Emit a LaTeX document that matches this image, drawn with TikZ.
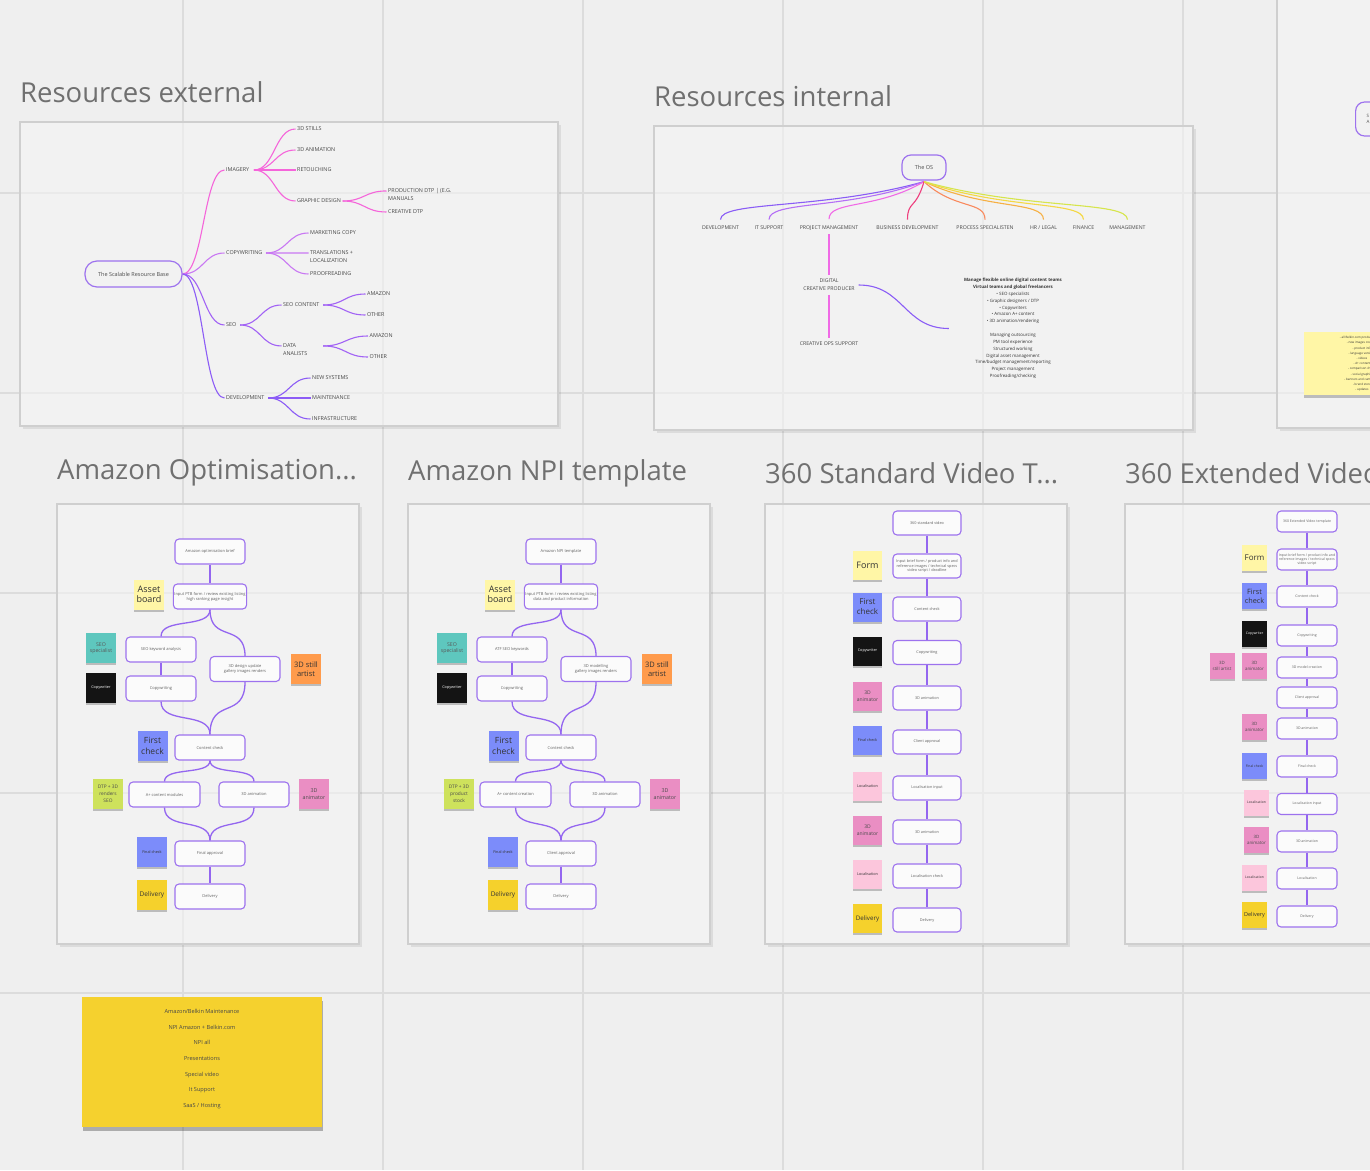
\documentclass[tikz,border=0pt]{standalone}
\usepackage{fontspec}
\setmainfont{Open Sans}
\usetikzlibrary{calc,shadows}
\definecolor{bgc}{HTML}{EFEFEF}
\definecolor{gridc}{HTML}{DCDCDC}
\definecolor{framefill}{HTML}{F6F6F6}
\definecolor{frameedge}{HTML}{CFCFCF}
\definecolor{titlec}{HTML}{707070}
\definecolor{vio}{HTML}{9466F0}
\definecolor{boxedge}{HTML}{9D72EE}
\definecolor{mmpink}{HTML}{F565DA}
\definecolor{mmorch}{HTML}{C978F3}
\definecolor{mmpurp}{HTML}{A263F5}
\definecolor{mmviol}{HTML}{8C5CF6}
\definecolor{osviol}{HTML}{8A5CF6}
\definecolor{oslav}{HTML}{B46EF6}
\definecolor{ospink}{HTML}{F06AE6}
\definecolor{oscrim}{HTML}{EE3F7E}
\definecolor{osorange}{HTML}{F98A5E}
\definecolor{osamber}{HTML}{F6B044}
\definecolor{osyellow}{HTML}{F4D843}
\definecolor{oslime}{HTML}{D6E54C}
\definecolor{stlight}{HTML}{FFF6A6}
\definecolor{styellow}{HTML}{F5D12C}
\definecolor{stteal}{HTML}{5EC7BE}
\definecolor{stblack}{HTML}{141414}
\definecolor{storange}{HTML}{FF9B4C}
\definecolor{stblue}{HTML}{7C8CFA}
\definecolor{stlime}{HTML}{CEE25C}
\definecolor{stpink}{HTML}{EA8EC3}
\definecolor{stlpink}{HTML}{FCC6DC}
\definecolor{bigsticky}{HTML}{F5D12E}
\tikzset{
  ftitle/.style={anchor=west, inner sep=0pt, text=titlec, font=\fontsize{27.5}{32}\selectfont},
  gridline/.style={draw=gridc, line width=1.3pt},
  mmroot/.style={draw=boxedge, line width=1.2pt, rounded corners=12pt, minimum width=97pt, minimum height=26pt, font=\fontsize{5.5}{6.5}\selectfont, text=black!70, inner sep=1pt},
  mml/.style={anchor=west, inner sep=1.5pt, align=left, font=\fontsize{5.4}{7.5}\selectfont, text=black!72},
  osl/.style={inner sep=1pt, outer sep=3pt, align=center, font=\fontsize{5.2}{8}\selectfont, text=black!72},
  mmc/.style={line width=1.1pt},
  fbox/.style={draw=boxedge, line width=1.1pt, rounded corners=4pt, fill=white!60!framefill, minimum width=70pt, minimum height=25pt, inner sep=1pt, align=center, font=\fontsize{4}{5}\selectfont, text=black!62},
  sbox/.style={fbox, minimum width=68pt, minimum height=24pt, font=\fontsize{3.8}{4.6}\selectfont},
  ebox/.style={fbox, minimum width=60pt, minimum height=21pt, font=\fontsize{3.5}{4.3}\selectfont},
  flow/.style={draw=vio, line width=1.3pt},
  sticky/.style={minimum width=30pt, minimum height=30pt, inner sep=0.5pt, align=center, text=black!80, drop shadow={shadow xshift=0pt, shadow yshift=-2pt, opacity=0.22, fill=black}},
  ssticky/.style={sticky, minimum width=29pt, minimum height=29pt},
  esticky/.style={sticky, minimum width=25pt, minimum height=26pt},
  tinyt/.style={font=\fontsize{3.8}{4.6}\selectfont},
}
% the let-values carry pt units, so the offsets below are canvas offsets
% horizontal mind-map curve
\newcommand\hc[3]{\draw[#1] let \p1=(#2), \p2=(#3), \n1={(\x2-\x1)/2}, \n2={(\x1-\x2)/2} in (#2) .. controls +(\n1,0pt) and +(\n2,0pt) .. (#3);}
% vertical flow curve
\newcommand\vc[3]{\draw[#1] let \p1=(#2), \p2=(#3), \n1={0.72*(\y2-\y1)}, \n2={0.72*(\y1-\y2)} in (#2) .. controls +(0pt,\n1) and +(0pt,\n2) .. (#3);}
% fan curve (top-down mind map)
\newcommand\fc[3]{\draw[#1] let \p1=(#2), \p2=(#3), \n1={0.5*(\x2-\x1)}, \n2={0.75*(\y2-\y1)}, \n3={0.5*(\y1-\y2)} in (#2) .. controls +(\n1,\n2) and +(0pt,\n3) .. (#3);}
\newcommand\frm[4]{%
  \draw[black,opacity=.08,line width=3pt] (#1+3,#4+1.8) -- (#3+1.8,#4+1.8) -- (#3+1.8,#2+3);
  \filldraw[fill=framefill,fill opacity=.55,draw=frameedge,line width=1.8pt] (#1,#2) rectangle (#3,#4);}
\newcommand\amazonflow[2]{%
  \node[fbox] (#2b1) at (#1+210,551.5) {\azA};
  \node[fbox] (#2b2) at (#1+210,596.5) {\azB};
  \node[fbox] (#2b3) at (#1+161,649.5) {\azC};
  \node[fbox] (#2b4) at (#1+161,688.5) {\azD};
  \node[fbox] (#2b5) at (#1+245,669) {\azE};
  \node[fbox] (#2b6) at (#1+210,747.5) {\azF};
  \node[fbox,minimum width=71pt] (#2b7) at (#1+164.5,794.5) {\azG};
  \node[fbox] (#2b8) at (#1+254,794.5) {\azH};
  \node[fbox] (#2b9) at (#1+210,853.5) {\azI};
  \node[fbox] (#2b10) at (#1+210,896.5) {\azJ};
  \draw[flow] (#2b1) -- (#2b2);
  \vc{flow}{#2b2.south}{#2b3.north}
  \vc{flow}{#2b2.south}{#2b5.north}
  \draw[flow] (#2b3) -- (#2b4);
  \vc{flow}{#2b4.south}{#2b6.north}
  \vc{flow}{#2b5.south}{#2b6.north}
  \vc{flow}{#2b6.south}{#2b7.north}
  \vc{flow}{#2b6.south}{#2b8.north}
  \vc{flow}{#2b7.south}{#2b9.north}
  \vc{flow}{#2b8.south}{#2b9.north}
  \draw[flow] (#2b9) -- (#2b10);
  \node[sticky, fill=stlight, font=\fontsize{9}{9.5}\selectfont] (#2s1) at (#1+149,594.5) {Asset\\board};
  \node[sticky, fill=stteal, font=\fontsize{5.2}{6.3}\selectfont, text=black!65] (#2s2) at (#1+101,648) {SEO\\specialist};
  \node[sticky, fill=stblack, text=white, tinyt] (#2s3) at (#1+101,688) {Copywriter};
  \node[sticky, fill=storange, font=\fontsize{7.5}{9.5}\selectfont] (#2s4) at (#1+306,669) {3D still\\artist};
  \node[sticky, fill=stblue, font=\fontsize{8.5}{11}\selectfont] (#2s5) at (#1+152.5,746) {First\\check};
  \node[sticky, fill=stlime, font=\fontsize{4.8}{7}\selectfont, text=black!70] (#2s6) at (#1+108,794) {\azS};
  \node[sticky, fill=stpink, font=\fontsize{5.3}{7.5}\selectfont, text=black!70] (#2s7) at (#1+314,794) {3D\\animator};
  \node[sticky, fill=stblue, tinyt] (#2s8) at (#1+152,852) {Final check};
  \node[sticky, fill=styellow, font=\fontsize{6.5}{7}\selectfont] (#2s9) at (#1+152,895) {Delivery};
}
\begin{document}
\begin{tikzpicture}[x=1pt,y=-1pt]
\useasboundingbox (0,0) rectangle (1370,1170);
\clip (0,0) rectangle (1370,1170);
\fill[bgc] (0,0) rectangle (1370,1170);
% grid
\foreach \gx in {183,383,583,783,983,1183} \draw[gridline] (\gx,0) -- (\gx,1170);
\foreach \gy in {193,393,593,793,993} \draw[gridline] (0,\gy) -- (1370,\gy);
% frames
\frm{20}{122}{558}{426}
\frm{654}{126}{1193}{430}
\frm{1277}{-20}{1420}{428}
\frm{57}{504}{359}{944}
\frm{408}{504}{710}{944}
\frm{765}{504}{1067}{944}
\frm{1125}{504}{1420}{944}
% titles
\node[ftitle] (t1) at (20,92) {Resources external};
\node[ftitle] (t2) at (654,96) {Resources internal};
\node[ftitle] (t3) at (57,473) {Amazon Optimisation...};
\node[ftitle] (t4) at (408,473) {Amazon NPI template};
\node[ftitle] (t5) at (765,473) {360 Standard Video T...};
\node[ftitle] (t6) at (1125,473) {360 Extended Video T...};

% ---------- Resources external mind map
\node[mmroot] (root) at (133.5,274) {The Scalable Resource Base};
\node[mml] (img) at (224.5,170) {IMAGERY};
\node[mml] (copy) at (224.5,253) {COPYWRITING};
\node[mml] (seo) at (224.5,325) {SEO};
\node[mml] (dev) at (224.5,398) {DEVELOPMENT};
\node[mml] (st) at (295.5,129) {3D STILLS};
\node[mml] (an) at (295.5,150) {3D ANIMATION};
\node[mml] (ret) at (295.5,170) {RETOUCHING};
\node[mml] (gd) at (295.5,201) {GRAPHIC DESIGN};
\node[mml] (pdtp) at (386.5,194.7) {PRODUCTION DTP | (E.G.\\MANUALS};
\node[mml] (cdtp) at (386.5,212) {CREATIVE DTP};
\node[mml] (mc) at (308.5,233) {MARKETING COPY};
\node[mml] (tl) at (308.5,256.7) {TRANSLATIONS +\\LOCALIZATION};
\node[mml] (pr) at (308.5,274) {PROOFREADING};
\node[mml] (sc) at (281.5,305) {SEO CONTENT};
\node[mml] (da) at (281.5,349.7) {DATA\\ANALISTS};
\node[mml] (am1) at (365.5,294) {AMAZON};
\node[mml] (ot1) at (365.5,315) {OTHER};
\node[mml] (am2) at (368,336) {AMAZON};
\node[mml] (ot2) at (368,357) {OTHER};
\node[mml] (ns) at (310.5,378) {NEW SYSTEMS};
\node[mml] (mt) at (310.5,398) {MAINTENANCE};
\node[mml] (inf) at (310.5,419) {INFRASTRUCTURE};
\hc{mmc,mmpink}{root.east}{img.west}
\hc{mmc,mmorch}{root.east}{copy.west}
\hc{mmc,mmpurp}{root.east}{seo.west}
\hc{mmc,mmviol}{root.east}{dev.west}
\hc{mmc,mmpink}{[xshift=3pt]img.east}{st.west}
\hc{mmc,mmpink}{[xshift=3pt]img.east}{an.west}
\hc{mmc,mmpink}{[xshift=3pt]img.east}{ret.west}
\hc{mmc,mmpink}{[xshift=3pt]img.east}{gd.west}
\hc{mmc,mmpink}{gd.east}{[yshift=3.75pt]pdtp.west}
\hc{mmc,mmpink}{gd.east}{cdtp.west}
\hc{mmc,mmorch}{[xshift=2pt]copy.east}{mc.west}
\hc{mmc,mmorch}{[xshift=2pt]copy.east}{[yshift=3.75pt]tl.west}
\hc{mmc,mmorch}{[xshift=2pt]copy.east}{pr.west}
\hc{mmc,mmpurp}{[xshift=2pt]seo.east}{sc.west}
\hc{mmc,mmpurp}{[xshift=2pt]seo.east}{[yshift=3.75pt]da.west}
\hc{mmc,mmpurp}{[xshift=2pt]sc.east}{am1.west}
\hc{mmc,mmpurp}{[xshift=2pt]sc.east}{ot1.west}
\hc{mmc,mmpurp}{[xshift=14pt,yshift=3.75pt]da.east}{am2.west}
\hc{mmc,mmpurp}{[xshift=14pt,yshift=3.75pt]da.east}{ot2.west}
\hc{mmc,mmviol}{[xshift=2pt]dev.east}{ns.west}
\hc{mmc,mmviol}{[xshift=2pt]dev.east}{mt.west}
\hc{mmc,mmviol}{[xshift=2pt]dev.east}{inf.west}

% ---------- Resources internal
\node[draw=boxedge, line width=1.2pt, rounded corners=9pt, minimum width=44pt, minimum height=25pt, font=\fontsize{5.5}{6.5}\selectfont, text=black!70, inner sep=1pt] (os) at (924,167.5) {The OS};
\node[osl] (ldev) at (720.5,228) {DEVELOPMENT};
\node[osl] (lit) at (769,228) {IT SUPPORT};
\node[osl] (lpm) at (829,228) {PROJECT MANAGEMENT};
\node[osl] (lbd) at (907.5,228) {BUSINESS DEVELOPMENT};
\node[osl] (lps) at (985,228) {PROCESS SPECIALISTEN};
\node[osl] (lhr) at (1043.5,228) {HR / LEGAL};
\node[osl] (lfin) at (1083.5,228) {FINANCE};
\node[osl] (lman) at (1127.5,228) {MANAGEMENT};
\fc{mmc,osviol}{[yshift=-1pt]os.south}{[yshift=2.5pt]ldev.north}
\fc{mmc,oslav}{[yshift=-1pt]os.south}{[yshift=2.5pt]lit.north}
\fc{mmc,ospink}{[yshift=-1pt]os.south}{[yshift=2.5pt]lpm.north}
\fc{mmc,oscrim}{[yshift=-1pt]os.south}{[yshift=2.5pt]lbd.north}
\fc{mmc,osorange}{[yshift=-1pt]os.south}{[yshift=2.5pt]lps.north}
\fc{mmc,osamber}{[yshift=-1pt]os.south}{[yshift=2.5pt]lhr.north}
\fc{mmc,osyellow}{[yshift=-1pt]os.south}{[yshift=2.5pt]lfin.north}
\fc{mmc,oslime}{[yshift=-1pt]os.south}{[yshift=2.5pt]lman.north}
\node[osl] (dcp) at (829,285) {DIGITAL\\CREATIVE PRODUCER};
\node[osl] (cops) at (829,344) {CREATIVE OPS SUPPORT};
\draw[mmc,ospink] (lpm.south) -- (dcp.north);
\draw[mmc,ospink] (dcp.south) -- (cops.north);
\node[align=center, inner sep=1pt, font=\fontsize{4.4}{6.85}\selectfont, text=black!80] (tb) at (1013,328.5) {\textbf{Manage flexible online digital content teams}\\\textbf{Virtual teams and global freelancers}\\• SEO specialists\\• Graphic designers / DTP\\• Copywriters\\• Amazon A+ content\\• 3D animation/rendering\\[6.85pt]Managing outsourcing\\PM tool experience\\Structured working\\Digital asset management\\Time/budget management/reporting\\Project management\\Proofreading/checking};
\hc{mmc,osviol}{dcp.east}{[xshift=-14pt]tb.west}

% ---------- right partial frame
\node[draw=boxedge, line width=1.2pt, rounded corners=9pt, minimum width=50pt, minimum height=34pt, anchor=west] (rn) at (1355,119) {};
\node[font=\fontsize{4.5}{6.5}\selectfont, anchor=west, align=left, text=black!70, inner sep=0pt] (rnt) at (1366.5,119) {S\\A};
\node[fill=stlight, minimum width=100pt, minimum height=63pt, anchor=north west, inner sep=0pt, drop shadow={shadow xshift=0pt, shadow yshift=-2.5pt, opacity=0.22, fill=black}] (rs) at (1304,332) {};
\node[align=center, font=\fontsize{3}{5.2}\selectfont, text=black!80, inner sep=0pt] (rst) at (1362,364) {- all Belkin.com product content\\- new images creation\\- product info\\- language versions\\- videos\\- A+ content\\- comparison charts\\- social graphics\\- banners and campaigns\\- brand store\\- updates};

% ---------- Amazon Optimisation
\def\azA{Amazon optimisation brief}
\def\azB{Input PTB form / review existing listing\\high ranking page insight}
\def\azC{SEO keyword analysis}
\def\azD{Copywriting}
\def\azE{3D design update\\gallery images renders}
\def\azF{Content check}
\def\azG{A+ content modules}
\def\azH{3D animation}
\def\azI{Final approval}
\def\azJ{Delivery}
\def\azS{DTP + 3D\\renders\\SEO}
\amazonflow{0}{ao}
% ---------- Amazon NPI
\def\azA{Amazon NPI template}
\def\azB{Input PTB form / review existing listing\\data and product information}
\def\azC{ATF SEO keywords}
\def\azD{Copywriting}
\def\azE{3D modelling\\gallery images renders}
\def\azF{Content check}
\def\azG{A+ content creation}
\def\azH{3D animation}
\def\azI{Client approval}
\def\azJ{Delivery}
\def\azS{DTP + 3D\\product\\stock}
\amazonflow{351}{np}

% ---------- 360 Standard
\node[sbox] (sb1) at (927,523) {360 standard video};
\node[sbox] (sb2) at (927,566) {Input brief form / product info and\\reference images / technical specs\\video script / deadline};
\node[sbox] (sb3) at (927,609) {Content check};
\node[sbox] (sb4) at (927,652.5) {Copywriting};
\node[sbox] (sb5) at (927,698) {3D animation};
\node[sbox] (sb6) at (927,742) {Client approval};
\node[sbox] (sb7) at (927,788) {Localisation input};
\node[sbox] (sb8) at (927,832) {3D animation};
\node[sbox] (sb9) at (927,876) {Localisation check};
\node[sbox] (sb10) at (927,920) {Delivery};
\foreach \i/\j in {1/2,2/3,3/4,4/5,5/6,6/7,7/8,8/9,9/10} \draw[flow] (sb\i) -- (sb\j);
\node[ssticky, fill=stlight, font=\fontsize{9}{10}\selectfont] (ss1) at (867.5,565) {Form};
\node[ssticky, fill=stblue, font=\fontsize{8}{10}\selectfont] (ss2) at (867.5,607) {First\\check};
\node[ssticky, fill=stblack, text=white, tinyt] (ss3) at (867.5,651) {Copywriter};
\node[ssticky, fill=stpink, font=\fontsize{5}{7}\selectfont, text=black!70] (ss4) at (867.5,696.5) {3D\\animator};
\node[ssticky, fill=stblue, tinyt] (ss5) at (867.5,740.5) {Final check};
\node[ssticky, fill=stlpink, tinyt] (ss6) at (867.5,786.5) {Localisation};
\node[ssticky, fill=stpink, font=\fontsize{5}{7}\selectfont, text=black!70] (ss7) at (867.5,830.5) {3D\\animator};
\node[ssticky, fill=stlpink, tinyt] (ss8) at (867.5,874) {Localisation};
\node[ssticky, fill=styellow, font=\fontsize{6.2}{7}\selectfont] (ss9) at (867.5,918.5) {Delivery};

% ---------- 360 Extended
\node[ebox] (eb1) at (1307,521.5) {360 Extended Video template};
\node[ebox] (eb2) at (1307,559.5) {Input brief form / product info and\\reference images / technical specs\\video script};
\node[ebox] (eb3) at (1307,596.5) {Content check};
\node[ebox] (eb4) at (1307,635.5) {Copywriting};
\node[ebox] (eb5) at (1307,667.5) {3D model creation};
\node[ebox] (eb6) at (1307,697.5) {Client approval};
\node[ebox] (eb7) at (1307,728.5) {3D animation};
\node[ebox] (eb8) at (1307,766.5) {Final check};
\node[ebox] (eb9) at (1307,804) {Localisation input};
\node[ebox] (eb10) at (1307,841.5) {3D animation};
\node[ebox] (eb11) at (1307,878.5) {Localisation};
\node[ebox] (eb12) at (1307,916.5) {Delivery};
\foreach \i/\j in {1/2,2/3,3/4,4/5,5/6,6/7,7/8,8/9,9/10,10/11,11/12} \draw[flow] (eb\i) -- (eb\j);
\node[esticky, fill=stlight, font=\fontsize{8}{9}\selectfont] (es1) at (1254.5,558) {Form};
\node[esticky, fill=stblue, font=\fontsize{7.3}{9}\selectfont] (es2) at (1254.5,596) {First\\check};
\node[esticky, fill=stblack, text=white, font=\fontsize{3.4}{4}\selectfont] (es3) at (1254.5,634) {Copywriter};
\node[esticky, fill=stpink, font=\fontsize{4.4}{6.2}\selectfont, text=black!70] (es4) at (1254.5,666) {3D\\animator};
\node[esticky, fill=stpink, font=\fontsize{4.4}{6.2}\selectfont, text=black!70] (es5) at (1222,666) {3D\\still artist};
\node[esticky, fill=stpink, font=\fontsize{4.4}{6.2}\selectfont, text=black!70] (es6) at (1254.5,727) {3D\\animator};
\node[esticky, fill=stblue, font=\fontsize{3.4}{4}\selectfont] (es7) at (1254.5,766) {Final check};
\node[esticky, fill=stlpink, font=\fontsize{3.4}{4}\selectfont] (es8) at (1256.5,802.5) {Localisation};
\node[esticky, fill=stpink, font=\fontsize{4.4}{6.2}\selectfont, text=black!70] (es9) at (1256.5,840) {3D\\animator};
\node[esticky, fill=stlpink, font=\fontsize{3.4}{4}\selectfont] (es10) at (1254.5,877.5) {Localisation};
\node[esticky, fill=styellow, font=\fontsize{5.5}{6}\selectfont] (es11) at (1254.5,915) {Delivery};

% ---------- big sticky
\node[fill=bigsticky, minimum width=240pt, minimum height=130pt, anchor=north west, inner sep=0pt, drop shadow={shadow xshift=1pt, shadow yshift=-4pt, opacity=0.28, fill=black}] (big) at (82,997) {};
\node[align=center, inner sep=0pt, font=\fontsize{5.6}{15.67}\selectfont, text=black!72] (bigt) at (202,1059) {Amazon/Belkin Maintenance\\NPI Amazon + Belkin.com\\NPI all\\Presentations\\Special video\\It Support\\SaaS / Hosting};
\end{tikzpicture}
\end{document}
